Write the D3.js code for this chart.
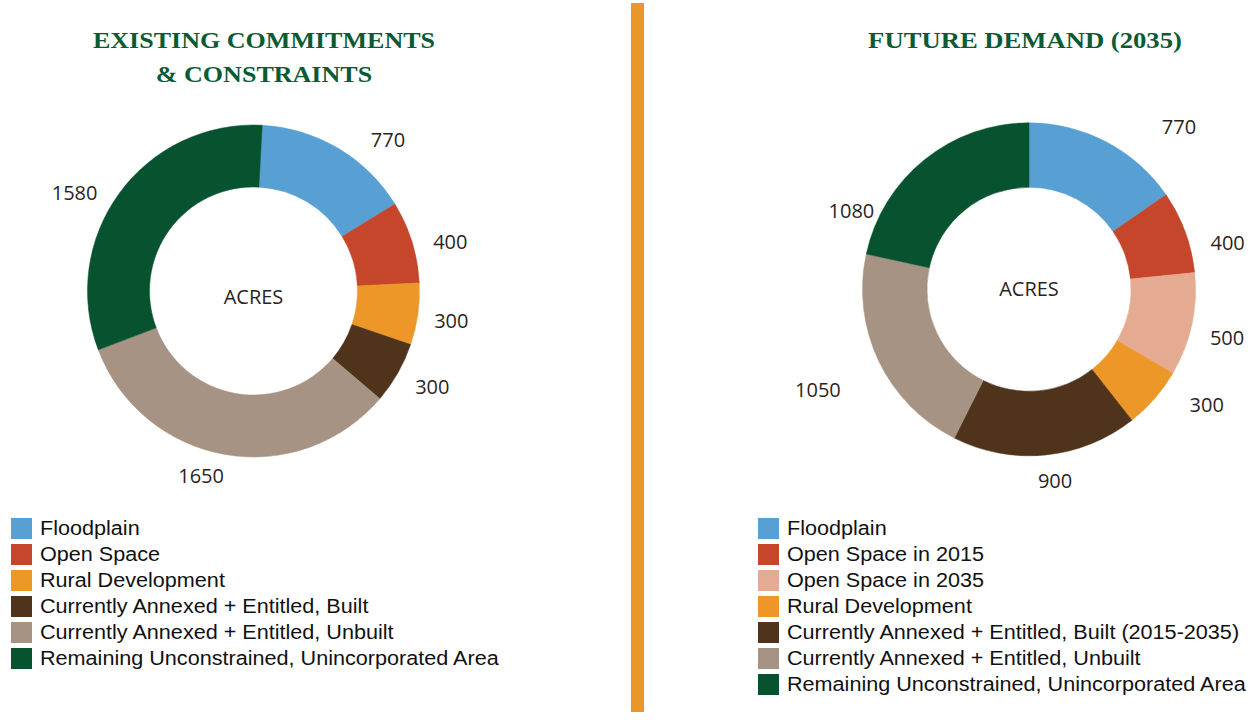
<!DOCTYPE html>
<html><head><meta charset="utf-8">
<script src="https://cdn.jsdelivr.net/npm/d3@7"></script>
<style>body{margin:0;background:#fff}svg{display:block}</style>
</head><body>
<svg id="c" width="1257" height="720"></svg>
<script>
// ---- data ----
const leftTitle = ["EXISTING COMMITMENTS", "& CONSTRAINTS"];
const rightTitle = ["FUTURE DEMAND (2035)"];
const leftCategories = ["Floodplain", "Open Space", "Rural Development",
  "Currently Annexed + Entitled, Built", "Currently Annexed + Entitled, Unbuilt",
  "Remaining Unconstrained, Unincorporated Area"];
const leftValues = [770, 400, 300, 300, 1650, 1580];
const rightCategories = ["Floodplain", "Open Space in 2015", "Open Space in 2035", "Rural Development",
  "Currently Annexed + Entitled, Built (2015-2035)", "Currently Annexed + Entitled, Unbuilt",
  "Remaining Unconstrained, Unincorporated Area"];
const rightValues = [770, 400, 500, 300, 900, 1050, 1080];
const centerLabel = "ACRES";

// ---- styles / layout ----
const leftColors = ["#58a0d3", "#c5462a", "#ec9727", "#4f331a", "#a69383", "#07522f"];
const rightColors = ["#58a0d3", "#c5462a", "#e5ab92", "#ec9727", "#4f331a", "#a69383", "#07522f"];
// label placement tweaks (degrees of angle shift, label radius)
const leftLabelShift = [11, 3, 0.5, -1.4, 6, -7.4];
const leftLabelR = [202, 203, 200, 203, 192, 204];
const rightLabelShift = [15, 7, 1.6, -8, -2, 0, -27.4];
const rightLabelR = [221, 204, 204, 212, 193, 234, 194];

const svg = d3.select("#c");
const green = "#0b5a34";
const rad = Math.PI / 180;

function stretch(sel, f) {
  sel.each(function () {
    const w = this.getComputedTextLength();
    d3.select(this).attr("textLength", w * f).attr("lengthAdjust", "spacingAndGlyphs");
  });
}

function donut(cfg) {
  const g = svg.append("g").attr("transform", `translate(${cfg.cx},${cfg.cy})`);
  const pie = d3.pie().sort(null).value(d => d)
    .startAngle(cfg.start * rad).endAngle(cfg.start * rad + 2 * Math.PI);
  const arcs = pie(cfg.values);
  const arc = d3.arc().innerRadius(cfg.ri).outerRadius(cfg.ro);
  g.selectAll("path").data(arcs).join("path")
    .attr("d", arc).attr("fill", (d, i) => cfg.colors[i])
    .attr("stroke", (d, i) => cfg.colors[i]).attr("stroke-width", 0.5);
  g.selectAll("text.v").data(arcs).join("text").attr("class", "v")
    .attr("x", (d, i) => { const a = (d.startAngle + d.endAngle) / 2 + cfg.shift[i] * rad; return Math.sin(a) * cfg.lr[i]; })
    .attr("y", (d, i) => { const a = (d.startAngle + d.endAngle) / 2 + cfg.shift[i] * rad; return -Math.cos(a) * cfg.lr[i]; })
    .attr("dy", "0.36em").attr("text-anchor", "middle")
    .attr("font-family", "'Open Sans', sans-serif").attr("font-size", 20)
    .attr("fill", "#2b1f24").text(d => d.data);
  g.append("text").attr("x", 0).attr("y", cfg.acresDy).attr("text-anchor", "middle")
    .attr("font-family", "'Open Sans', sans-serif").attr("font-size", 20)
    .attr("fill", "#2b1f24").text(centerLabel);

  // titles
  const t = svg.selectAll(null).data(cfg.title).join("text")
    .attr("x", cfg.tx).attr("y", (d, i) => cfg.ty + i * 34)
    .attr("text-anchor", "middle").attr("font-family", "'Liberation Serif', serif")
    .attr("font-weight", "bold").attr("font-size", 24).attr("fill", green).text(d => d);
  stretch(t, cfg.tstretch);

  // legend
  const lg = svg.append("g").attr("transform", `translate(${cfg.lx},${cfg.ly})`);
  const row = lg.selectAll("g").data(cfg.cats).join("g")
    .attr("transform", (d, i) => `translate(0,${i * 26})`);
  row.append("rect").attr("width", 21).attr("height", 21).attr("fill", (d, i) => cfg.colors[i]);
  const lt = row.append("text").attr("x", 29).attr("y", 17)
    .attr("font-family", "'Liberation Sans', Arial, sans-serif").attr("font-size", 20)
    .attr("fill", "#111").text(d => d);
  stretch(lt, 1.08);
}

donut({cx: 253.5, cy: 291, ro: 166, ri: 104, start: 3, values: leftValues, colors: leftColors,
  shift: leftLabelShift, lr: leftLabelR, acresDy: 13, title: leftTitle, tx: 264, ty: 48, tstretch: 1.085,
  cats: leftCategories, lx: 11, ly: 518});
donut({cx: 1029, cy: 289.3, ro: 166.5, ri: 102, start: 0, values: rightValues, colors: rightColors,
  shift: rightLabelShift, lr: rightLabelR, acresDy: 6.5, title: rightTitle, tx: 1025, ty: 48, tstretch: 1.11,
  cats: rightCategories, lx: 758, ly: 518});

// divider
svg.append("rect").attr("x", 631).attr("y", 3).attr("width", 13).attr("height", 709).attr("fill", "#ea962a");
</script>
</body></html>
